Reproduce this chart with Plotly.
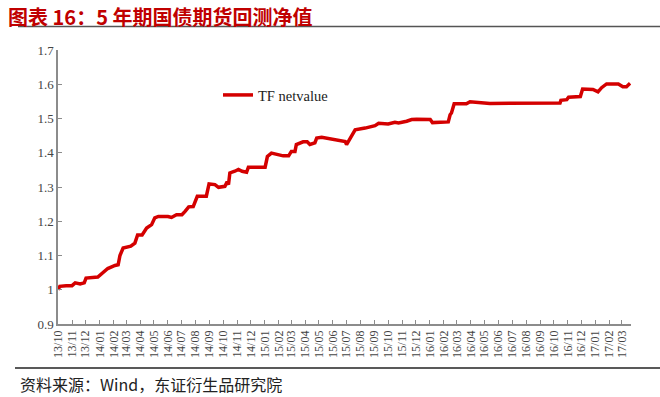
import plotly.graph_objects as go

dates = [
    "2013-10-01", "2013-10-05", "2013-10-19", "2013-11-01", "2013-11-08", "2013-11-19", "2013-11-28",
    "2013-12-02", "2013-12-28", "2014-01-08", "2014-01-19", "2014-02-04", "2014-02-11", "2014-02-15",
    "2014-02-22", "2014-03-11", "2014-03-20", "2014-03-26", "2014-04-05", "2014-04-15", "2014-04-26",
    "2014-05-03", "2014-05-11", "2014-06-01", "2014-06-09", "2014-06-20", "2014-07-02", "2014-07-09",
    "2014-07-17", "2014-07-27", "2014-08-05", "2014-08-25", "2014-08-31", "2014-09-13", "2014-09-21",
    "2014-10-05", "2014-10-10", "2014-10-13", "2014-10-16", "2014-10-27", "2014-11-04", "2014-11-12",
    "2014-11-22", "2014-11-26", "2015-01-02", "2015-01-07", "2015-01-16", "2015-02-11", "2015-02-23",
    "2015-03-01", "2015-03-09", "2015-03-12", "2015-03-27", "2015-04-05", "2015-04-11", "2015-04-22",
    "2015-04-26", "2015-05-07", "2015-06-28", "2015-07-01", "2015-07-05", "2015-07-15", "2015-07-20",
    "2015-08-11", "2015-08-25", "2015-09-02", "2015-09-10", "2015-10-01", "2015-10-16", "2015-10-24",
    "2015-11-11", "2015-11-22", "2015-12-03", "2016-01-02", "2016-01-07", "2016-02-11", "2016-02-15",
    "2016-02-18", "2016-02-24", "2016-03-22", "2016-03-30", "2016-04-28", "2016-05-13", "2016-10-15",
    "2016-10-17", "2016-10-30", "2016-11-03", "2016-11-29", "2016-12-04", "2016-12-27", "2017-01-07",
    "2017-01-15", "2017-01-26", "2017-02-21", "2017-03-03", "2017-03-11", "2017-03-19",
]
netvalue = [
    1.000, 1.010, 1.012, 1.012, 1.020, 1.017, 1.020,
    1.034, 1.037, 1.050, 1.062, 1.071, 1.073, 1.100,
    1.122, 1.127, 1.136, 1.160, 1.160, 1.180, 1.190,
    1.210, 1.214, 1.214, 1.211, 1.219, 1.219, 1.229,
    1.242, 1.243, 1.273, 1.273, 1.309, 1.307, 1.299,
    1.302, 1.315, 1.307, 1.341, 1.346, 1.351, 1.346,
    1.343, 1.358, 1.358, 1.389, 1.399, 1.391, 1.391,
    1.404, 1.404, 1.424, 1.432, 1.432, 1.424, 1.429,
    1.443, 1.445, 1.433, 1.424, 1.433, 1.453, 1.467,
    1.472, 1.475, 1.479, 1.486, 1.484, 1.489, 1.487,
    1.492, 1.497, 1.498, 1.497, 1.488, 1.490, 1.511,
    1.516, 1.543, 1.543, 1.549, 1.546, 1.544, 1.545,
    1.553, 1.555, 1.562, 1.564, 1.586, 1.585, 1.578,
    1.590, 1.601, 1.601, 1.593, 1.593, 1.603,
]

tick_dates = []
tick_labels = []
y, m = 2013, 10
while (y, m) <= (2017, 3):
    tick_dates.append(f"{y}-{m:02d}-01")
    tick_labels.append(f"{y % 100:02d}/{m:02d}")
    m += 1
    if m > 12:
        m, y = 1, y + 1

y_ticks = [0.9, 1.0, 1.1, 1.2, 1.3, 1.4, 1.5, 1.6, 1.7]
y_labels = ["0.9", "1", "1.1", "1.2", "1.3", "1.4", "1.5", "1.6", "1.7"]

series_name = "TF netvalue"
title_text = "图表 16：5 年期国债期货回测净值"
source_text = "资料来源：Wind，东证衍生品研究院"

RED = "#d40000"
AX = "#8c8c8c"
SERIF = "Liberation Serif, Times New Roman, serif"

fig = go.Figure()
fig.add_trace(go.Scatter(
    x=dates, y=netvalue, mode="lines", name=series_name,
    line=dict(color=RED, width=3.5),
))

W, H = 660, 397
L, R, T, B = 58, 29, 50, 73
pw, ph = W - L - R, H - T - B

def px_x(px):
    return (px - L) / pw

def px_y(py):
    return (H - B - py) / ph

fig.update_layout(
    width=W, height=H,
    margin=dict(l=L, r=R, t=T, b=B),
    paper_bgcolor="white", plot_bgcolor="white",
    showlegend=True,
    legend=dict(
        x=px_x(218), y=px_y(95), xanchor="left", yanchor="middle",
        bgcolor="rgba(0,0,0,0)", font=dict(family=SERIF, size=14.5, color="#222"),
    ),
    xaxis=dict(
        type="date",
        range=["2013-10-01", "2017-03-21"],
        tickmode="array", tickvals=tick_dates, ticktext=tick_labels,
        tickangle=-90, ticks="inside", ticklen=4, tickcolor=AX,
        showline=True, linecolor=AX, linewidth=1.5,
        showgrid=False, zeroline=False,
        tickfont=dict(family=SERIF, size=12, color="#444"),
    ),
    yaxis=dict(
        range=[0.9, 1.7],
        tickmode="array", tickvals=y_ticks, ticktext=y_labels,
        ticks="inside", ticklen=4, tickcolor=AX,
        showline=True, linecolor=AX, linewidth=1.5,
        showgrid=False, zeroline=False,
        tickfont=dict(family=SERIF, size=13, color="#444"),
    ),
    shapes=[
        dict(type="line", xref="paper", yref="paper",
             x0=px_x(18), x1=px_x(660), y0=px_y(26.5), y1=px_y(26.5),
             line=dict(color="#555", width=1.5)),
        dict(type="line", xref="paper", yref="paper",
             x0=px_x(15), x1=px_x(660), y0=px_y(368), y1=px_y(368),
             line=dict(color="#222", width=1.5)),
    ],
    annotations=[
        dict(text="<b>" + title_text + "</b>", xref="paper", yref="paper",
             x=px_x(7), y=px_y(0.5), xanchor="left", yanchor="top",
             showarrow=False, borderpad=0,
             font=dict(family="Noto Sans CJK SC", size=20, color="#c00000")),
        dict(text=source_text, xref="paper", yref="paper",
             x=px_x(18), y=px_y(384), xanchor="left", yanchor="middle",
             showarrow=False,
             font=dict(family="Noto Sans CJK SC", size=16, color="#222")),
    ],
)

fig.write_html(
    "out.html",
    config={"displayModeBar": False},
    post_script="document.body.style.margin='0';document.body.style.overflow='hidden';",
)
